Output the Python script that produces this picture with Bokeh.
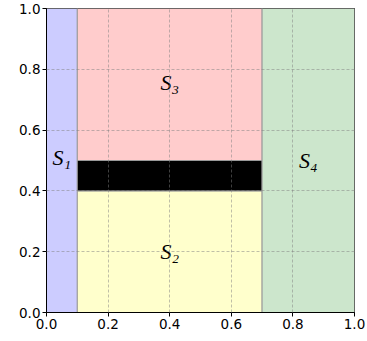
from bokeh.plotting import figure
from bokeh.models import ColumnDataSource, FixedTicker, Label
from bokeh.embed import file_html
from bokeh.resources import INLINE

# Regions
region_names = ["S1", "S2", "black", "S3", "S4"]
region_left = [0.0, 0.1, 0.1, 0.1, 0.7]
region_right = [0.1, 0.7, 0.7, 0.7, 1.0]
region_bottom = [0.0, 0.0, 0.4, 0.5, 0.0]
region_top = [1.0, 0.4, 0.5, 1.0, 1.0]
region_colors = ["#ccccff", "#ffffcc", "#000000", "#ffcccc", "#cce6cc"]

# Labels
label_texts = ["S₁", "S₂", "S₃", "S₄"]
label_x = [0.05, 0.40, 0.40, 0.85]
label_y = [0.51, 0.20, 0.755, 0.50]

ticks = [0.0, 0.2, 0.4, 0.6, 0.8, 1.0]

p = figure(width=367, height=341, x_range=(0, 1), y_range=(0, 1),
           output_backend="svg", toolbar_location=None,
           min_border_left=46, min_border_right=13, min_border_top=8, min_border_bottom=29)

src = ColumnDataSource(dict(left=region_left, right=region_right,
                            bottom=region_bottom, top=region_top, color=region_colors))
p.quad(left="left", right="right", bottom="bottom", top="top", source=src,
       fill_color="color", line_color="#999999", line_width=1)

for t, x, y in zip(label_texts, label_x, label_y):
    p.add_layout(Label(x=x, y=y, text=t, text_align="center", text_baseline="middle",
                       text_font="Liberation Serif", text_font_style="italic",
                       text_font_size="22px", text_color="black"))

for ax in (p.xaxis, p.yaxis):
    ax.ticker = FixedTicker(ticks=ticks)
    ax.major_label_text_font = "DejaVu Sans"
    ax.major_label_text_font_size = "13.5px"
    ax.major_label_text_color = "black"
    ax.minor_tick_line_color = None
    ax.major_tick_out = 4
    ax.major_tick_in = 0
    ax.major_label_standoff = 2
    ax.axis_line_color = "black"
    ax.major_tick_line_color = "black"

p.xaxis.major_label_overrides = {t: f"{t:.1f}" for t in ticks}
p.yaxis.major_label_overrides = {t: f"{t:.1f}" for t in ticks}

for g in (p.xgrid, p.ygrid):
    g.ticker = FixedTicker(ticks=ticks)
    g.grid_line_color = "gray"
    g.grid_line_alpha = 0.5
    g.grid_line_dash = "3 2"
    g.grid_line_width = 1
    g.level = "overlay"

p.outline_line_color = "black"
p.outline_line_alpha = 1
p.outline_line_width = 1
p.background_fill_color = "white"
p.border_fill_color = "white"

open("out.html", "w").write(file_html(p, INLINE))
